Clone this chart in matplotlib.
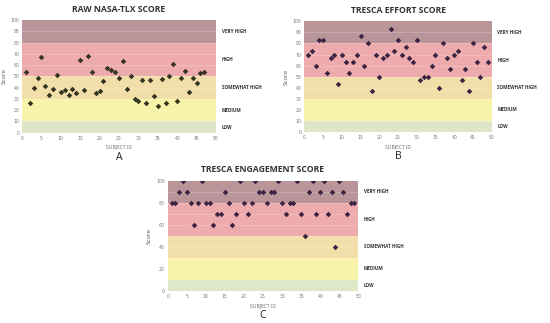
import matplotlib
matplotlib.use("Agg")
import matplotlib.pyplot as plt

# Raw NASA-TLX score, subjects 1..47
nasa_scores = [54, 26, 40, 48.5, 67, 41.5, 33.5, 38.5, 51, 36, 37.5, 33.5, 39, 35,
               64.5, 38, 68, 54, 35, 37, 45.5, 57.5, 56, 53.5, 49, 63.5, 39, 50.5,
               30, 28, 46.5, 26, 46.5, 33, 23.5, 47.5, 26.5, 50.5, 61, 28.5, 49, 55,
               36, 49, 44.5, 53, 53.5]

# TRESCA effort score, subjects 1..49
effort_scores = [70, 73.3, 60, 83.3, 83.3, 53.3, 66.7, 70, 43.3, 70, 63.3, 53.3, 63.3,
                 70, 86.7, 60, 80, 36.7, 70, 50, 66.7, 70, 93.3, 73.3, 83.3, 70, 76.7,
                 66.7, 63.3, 83.3, 46.7, 50, 50, 60, 70, 40, 80, 66.7, 56.7, 70, 73.3,
                 46.7, 56.7, 36.7, 80, 63.3, 50, 76.7, 63.3]

# TRESCA engagement score, subjects 1..49
engagement_scores = [80, 80, 90, 100, 90, 80, 60, 80, 100, 80, 80, 60, 70, 70, 90, 80,
                     60, 70, 100, 80, 70, 80, 100, 90, 90, 80, 90, 90, 100, 80, 70, 80,
                     80, 100, 70, 50, 90, 100, 70, 90, 100, 70, 90, 40, 100, 90, 70,
                     80, 80]

band_edges = [0, 10, 30, 50, 80, 100]
band_names = ["LOW", "MEDIUM", "SOMEWHAT HIGH", "HIGH", "VERY HIGH"]
band_label_y = [5, 20, 40, 65, 90]
band_colors = ["#dde6c6", "#f7f3a9", "#f2dea9", "#eeabae", "#b9959a"]

FONT = "Open Sans"


def draw_panel(ax, scores, title, letter, marker_color, ytick_step):
    subjects = list(range(1, len(scores) + 1))
    for lo, hi, c in zip(band_edges[:-1], band_edges[1:], band_colors):
        ax.axhspan(lo, hi, color=c, lw=0, zorder=0)
    for y in range(10, 100, 10):
        ax.axhline(y, color="white", lw=0.4, alpha=0.35, zorder=1)
    ax.scatter(subjects, scores, marker="D", s=8, color=marker_color, zorder=3, lw=0)
    ax.set_xlim(0, 50)
    ax.set_ylim(0, 100)
    ax.set_xticks(range(0, 51, 5))
    ax.set_yticks(range(0, 101, ytick_step))
    ax.tick_params(length=0, labelsize=3.3, labelcolor="#777777", pad=2)
    for s in ax.spines.values():
        s.set_visible(False)
    ax.set_xlabel("SUBJECT ID", fontsize=3.6, color="#666666", labelpad=3, family=FONT)
    ax.set_ylabel("Score", fontsize=4.5, color="#555555", labelpad=3, family=FONT)
    ax.set_title(title, fontsize=6.2, fontweight="bold", color="#333333", pad=6, family=FONT)
    for name, y in zip(band_names, band_label_y):
        ax.text(1.03, y, name, transform=ax.get_yaxis_transform(), fontsize=3.3,
                fontweight="bold", color="#333333", va="center", ha="left", family=FONT)
    ax.text(0.5, -0.22, letter, transform=ax.transAxes, fontsize=7.5,
            color="#222222", ha="center", va="center", family=FONT)


fig = plt.figure(figsize=(5.5, 3.23), dpi=100)
ax_a = fig.add_axes([0.040, 0.589, 0.3527, 0.349])
ax_b = fig.add_axes([0.5533, 0.5913, 0.3407, 0.3427])
ax_c = fig.add_axes([0.3049, 0.0991, 0.3465, 0.3415])

draw_panel(ax_a, nasa_scores, "RAW NASA-TLX SCORE", "A", "#34331f", 10)
draw_panel(ax_b, effort_scores, "TRESCA EFFORT SCORE", "B", "#3a2442", 10)
draw_panel(ax_c, engagement_scores, "TRESCA ENGAGEMENT SCORE", "C", "#3a2442", 20)

fig.savefig("out.png", dpi=100)
